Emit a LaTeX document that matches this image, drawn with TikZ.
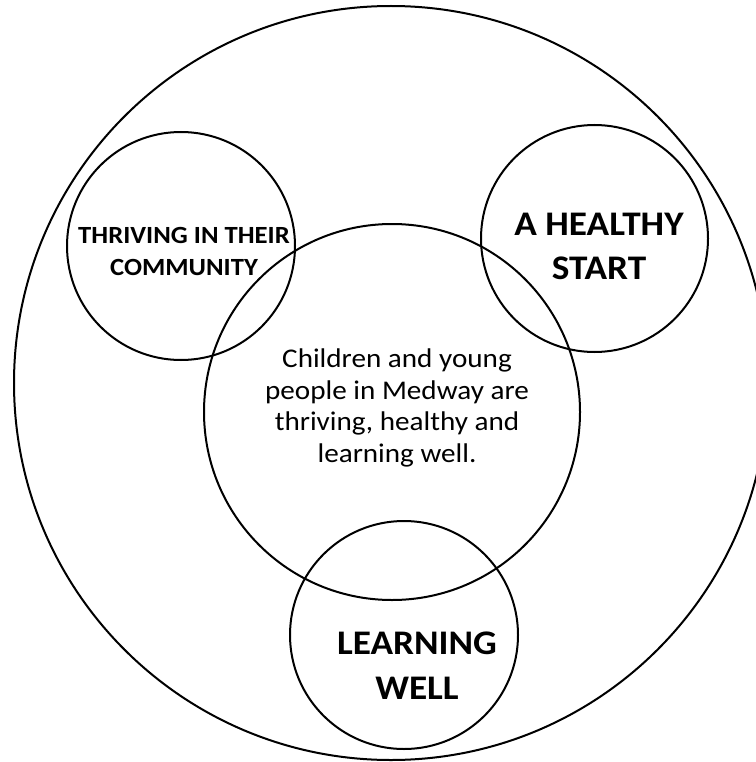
\documentclass[tikz,border=0pt]{standalone}
\usepackage{fontspec}
\setmainfont{Carlito}[FakeStretch=1.08]
\begin{document}
\begin{tikzpicture}[x=1pt,y=-1pt,
  ring/.style={draw=black, line width=2pt, circle, inner sep=0pt},
  txt/.style={align=center, inner sep=0pt, text=black}]
\useasboundingbox (0,0) rectangle (755,762);
\node[ring, minimum size=754pt] (outer) at (391,383) {};
\node[ring, minimum size=228pt] (thrive) at (181,246) {};
\node[ring, minimum size=227pt] (healthy) at (594.5,238.5) {};
\node[ring, minimum size=376pt] (core) at (392,412) {};
\node[ring, minimum size=228pt] (learn) at (404,635) {};
\node[txt, font=\bfseries\fontsize{24.7}{32}\selectfont] (t1) at (184,251) {THRIVING IN THEIR\\COMMUNITY};
\node[txt, font=\bfseries\fontsize{34.5}{44}\selectfont] (t2) at (599,246) {A HEALTHY\\START};
\node[txt, font=\bfseries\fontsize{34.5}{45}\selectfont] (t3) at (417,666) {LEARNING\\WELL};
\node[txt, font=\fontsize{27}{31.6}\selectfont] (t4) at (397,408) {Children and young\\people in Medway are\\thriving, healthy and\\learning well.};
\end{tikzpicture}
\end{document}
